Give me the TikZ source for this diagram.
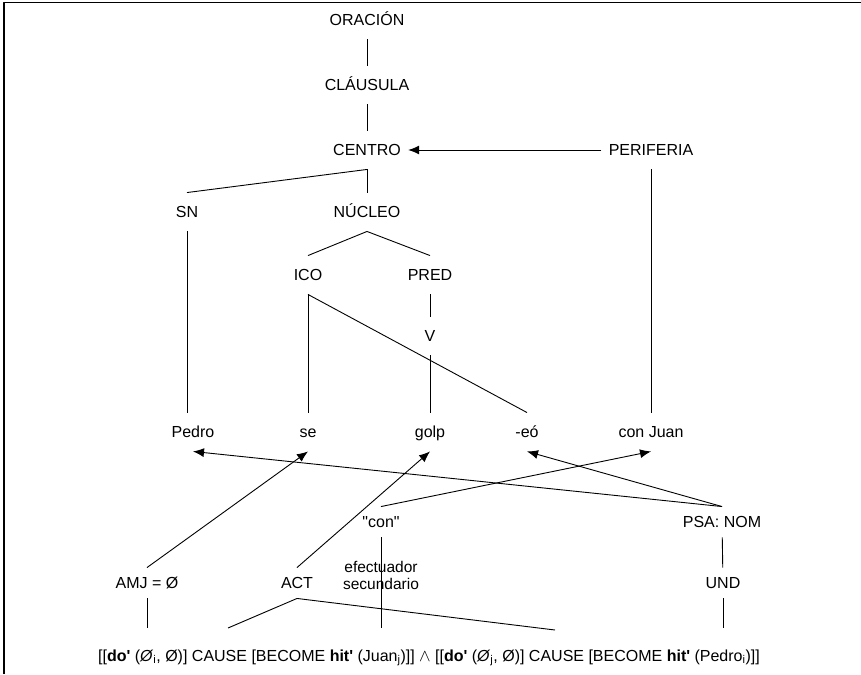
\documentclass[tikz,border=0pt]{standalone}
\usepackage{fontspec}
\setmainfont{Liberation Sans}
\usetikzlibrary{arrows.meta}
\begin{document}
\begin{tikzpicture}[x=1pt,y=-1pt,line join=round,line width=0.9pt]
\tikzstyle{cat} = [inner xsep=7pt,inner ysep=0pt,minimum height=38pt,text height=11.5pt,text depth=0pt,font=\fontsize{16}{19}\selectfont]
\tikzstyle{role} = [cat,minimum height=30pt]
\tikzstyle{link} = [draw,-{Latex[length=11pt,width=9pt]}]

\useasboundingbox (0,0) rectangle (861,674);
\draw[line width=1.6pt] (4,674) -- (4,2.5) -- (861,2.5);

% layered structure
\node[cat] (oracion)   at (367,20)  {ORACIÓN};
\node[cat] (clausula)  at (367,85)  {CLÁUSULA};
\node[cat] (centro)    at (367,150) {CENTRO};
\node[cat] (periferia) at (651,150) {PERIFERIA};
\node[cat] (sn)        at (187,212) {SN};
\node[cat] (nucleo)    at (367,212) {NÚCLEO};
\node[cat] (ico)       at (308,275) {ICO};
\node[cat] (pred)      at (430,275) {PRED};
\node[cat] (v)         at (430,336) {V};

% words
\node[cat] (pedro)   at (193,432) {Pedro};
\node[cat] (se)      at (308,432) {se};
\node[cat] (golp)    at (430,432) {golp};
\node[cat] (eo)      at (527,432) {-eó};
\node[cat] (conjuan) at (651,432) {con Juan};

% linking
\node[role] (con) at (381,522) {\textquotedbl con\textquotedbl};
\node[role] (psa) at (722,522) {PSA: NOM};
\node[role] (amj) at (147,583) {AMJ = Ø};
\node[role] (act) at (297,583) {ACT};
\node[role] (und) at (723,583) {UND};
\node[inner sep=0pt,align=center,font=\fontsize{15.5}{17}\selectfont] (efect) at (381,575) {efectuador\\secundario};

\node[inner sep=0pt,font=\fontsize{16}{19}\selectfont] (formula) at (429,658)
  {[[\textbf{do\textquotesingle} (\textit{Ø}\textsubscript{i}, Ø)] CAUSE [BECOME \textbf{hit\textquotesingle} (Juan\textsubscript{j})]] $\wedge$ [[\textbf{do\textquotesingle} (\textit{Ø}\textsubscript{j}, Ø)] CAUSE [BECOME \textbf{hit\textquotesingle} (Pedro\textsubscript{i})]]};

\coordinate (doi) at (228,628);
\coordinate (doj) at (555,630);

\draw (oracion) -- (clausula);
\draw (clausula) -- (centro);
\draw[link] (periferia) -- (centro);
\draw (centro.south) -- (sn.north);
\draw (centro) -- (nucleo);
\draw (nucleo.south) -- (ico.north);
\draw (nucleo.south) -- (pred.north);
\draw (pred) -- (v);
\draw (sn.south) -- (sn.south |- pedro.north);
\draw (ico) -- (se);
\draw (ico.south) -- (eo.north);
\draw (v) -- (golp);
\draw (periferia) -- (conjuan);

\draw[link] (psa.north) -- (pedro.south);
\draw[link] (psa.north) -- (eo.south);
\draw[link] (con.north) -- (conjuan.south);
\draw[link] (amj.north) -- (se.south);
\draw[link] (act.north) -- (golp.south);

\draw (con.south) -- (con.south |- doi);
\draw (psa) -- (und);
\draw (amj.south) -- (amj.south |- doi);
\draw (und.south) -- (und.south |- doi);
\draw (act.south) -- (doi);
\draw (act.south) -- (doj);

\end{tikzpicture}
\end{document}
